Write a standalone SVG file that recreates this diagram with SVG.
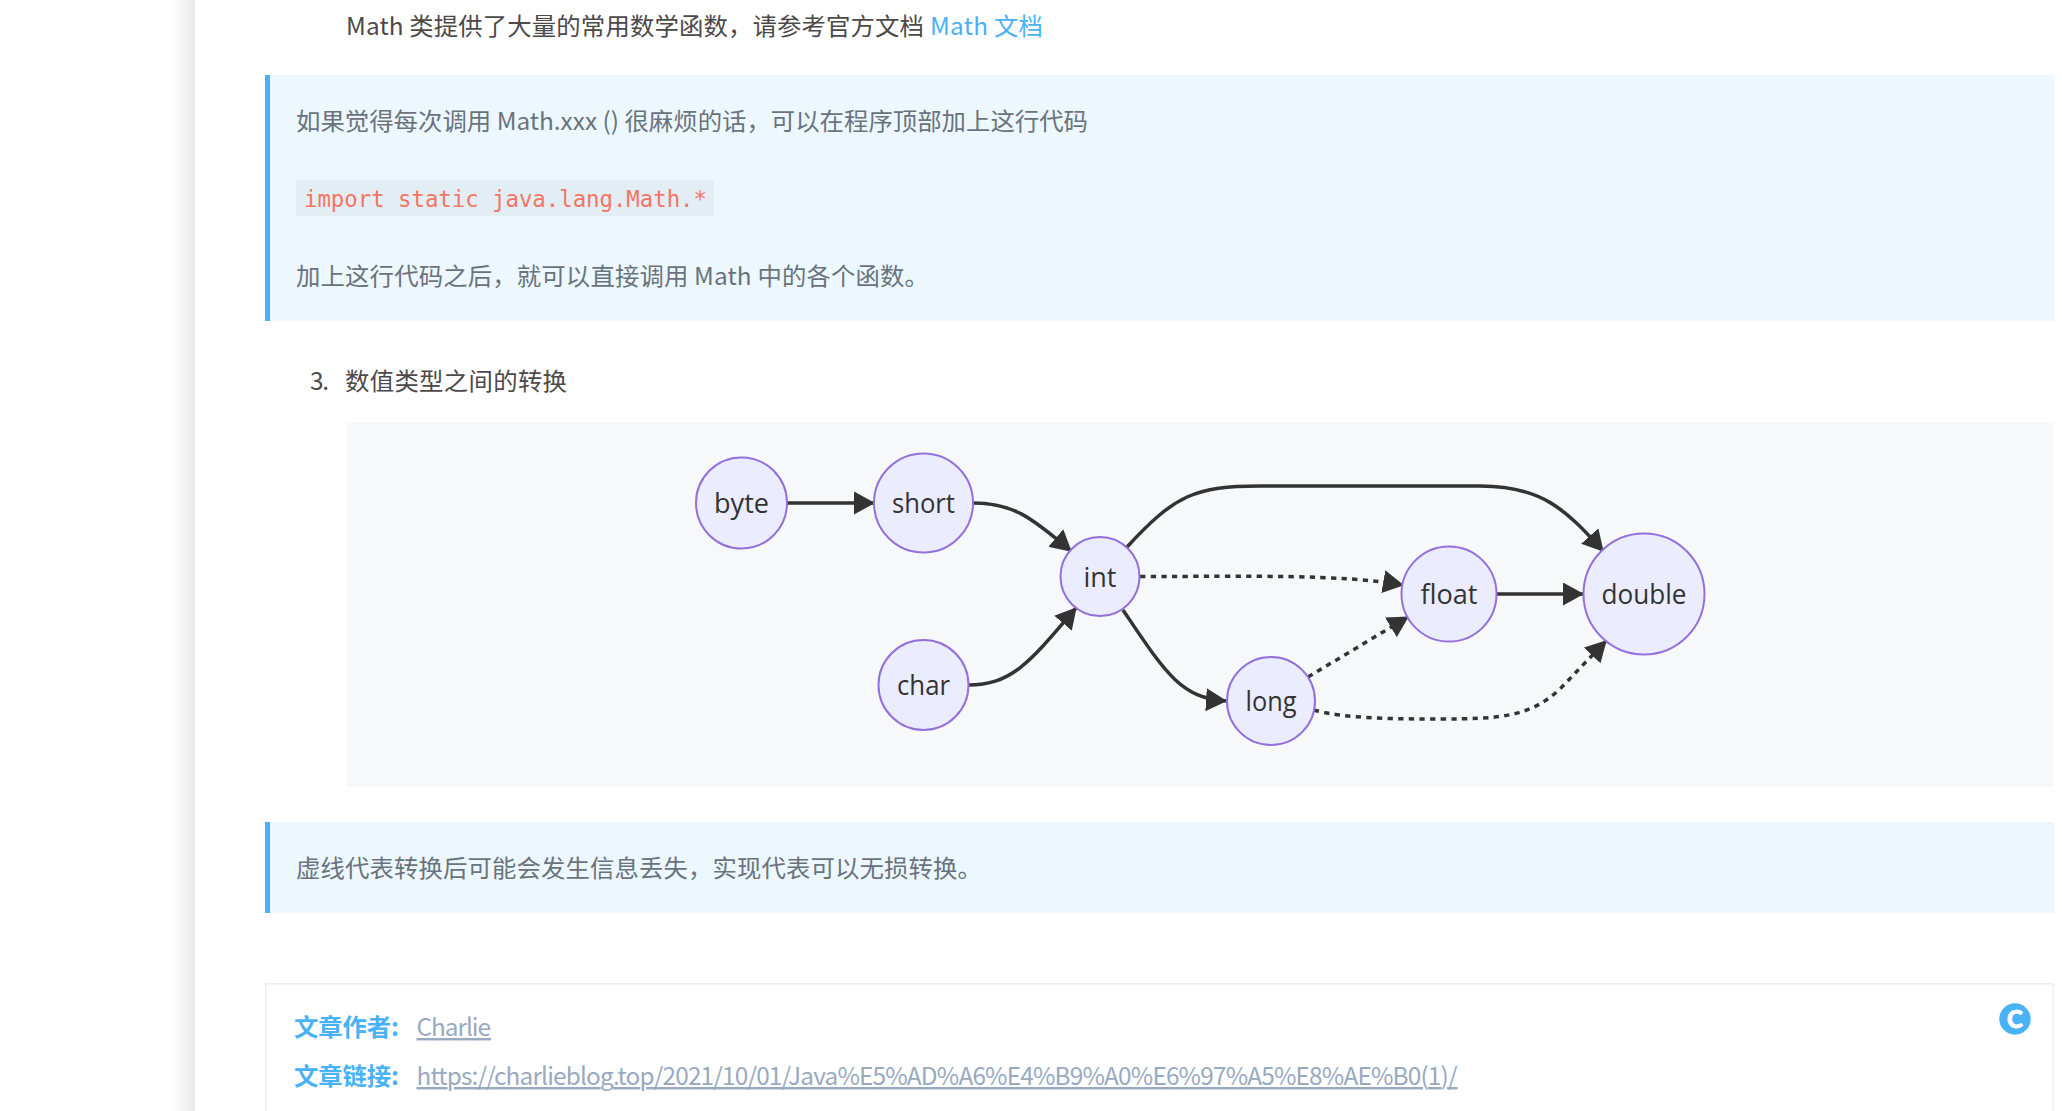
<svg xmlns="http://www.w3.org/2000/svg" width="2062" height="1111" viewBox="0 0 2062 1111">
<style>
.t{font-family:"Noto Sans CJK SC","Noto Sans",sans-serif;font-size:24.4px;fill:#4c4948}
.q{fill:#6a737d}
.a{fill:#49b1f5}
.lbl{font-weight:700;fill:#49b1f5}
.url{fill:#99a9bf;text-decoration:underline}
.code{font-family:"DejaVu Sans Mono",monospace;font-size:22.4px;fill:#f47466}
.qb{fill:#ecf7fe}
.bar{fill:#49b1f5}
.n circle{fill:#ececff;stroke:#9370db;stroke-width:2}
.n text{font-family:"Open Sans","Noto Sans",sans-serif;font-size:27.5px;fill:#333;text-anchor:middle}
.e{fill:none;stroke:#333;stroke-width:3.5;marker-end:url(#ah)}
.d{stroke-dasharray:5.3 5.3}
</style>
<defs>
<marker id="ah" markerUnits="userSpaceOnUse" viewBox="0 0 21 23" refX="20" refY="11.5" markerWidth="21" markerHeight="23" orient="auto"><path d="M0,0L21,11.5L0,23z" fill="#333"/></marker>
<linearGradient id="sh" x1="0" x2="1" y1="0" y2="0"><stop offset="0" stop-color="#fff"/><stop offset="1" stop-color="#e9e9e9"/></linearGradient>
</defs>
<rect width="2062" height="1111" fill="#fff"/>
<rect x="170" y="0" width="25" height="1111" fill="url(#sh)"/>
<text class="t" x="346" y="35" textLength="578">Math 类提供了大量的常用数学函数，请参考官方文档</text>
<text class="t a" x="930" y="35" textLength="113">Math 文档</text>
<rect class="qb" x="265" y="75" width="1789" height="246"/><rect class="bar" x="265" y="75" width="5" height="246"/>
<text class="t q" x="296" y="130" textLength="792">如果觉得每次调用 Math.xxx () 很麻烦的话，可以在程序顶部加上这行代码</text>
<rect x="296" y="180" width="418" height="36" fill="#e3eef4"/>
<text class="code" x="304" y="207" textLength="403">import static java.lang.Math.*</text>
<text class="t q" x="296" y="285" textLength="633">加上这行代码之后，就可以直接调用 Math 中的各个函数。</text>
<text class="t" x="310" y="390" textLength="19">3.</text>
<text class="t" x="345" y="390" textLength="222">数值类型之间的转换</text>
<rect x="346" y="422" width="1708" height="365" fill="#f6f8fa"/>
<g id="connectors">
<path class="e" d="M787,503L874,503"/>
<path class="e" d="M973,503C1012,503 1030,516 1071,551"/>
<path class="e" d="M968,685C1012,685 1030,662 1076,608"/>
<path class="e" d="M1123,610C1165,672 1180,698 1226,701"/>
<path class="e" d="M1127,547C1175,495 1195,486 1260,486L1480,486C1540,486 1565,508 1603,551"/>
<path class="e d" d="M1140,576.5C1250,576.5 1340,574 1403,585"/>
<path class="e d" d="M1308,677L1408,617"/>
<path class="e d" d="M1314,710C1345,719 1400,719 1440,719C1500,719 1530,717 1560,689L1606,641"/>
<path class="e" d="M1497,594L1583,594"/>
</g>
<g id="byte" class="n"><circle cx="741.5" cy="503" r="45.5"/><text x="741.5" y="513" textLength="55" lengthAdjust="spacingAndGlyphs">byte</text></g>
<g id="short" class="n"><circle cx="923.5" cy="503" r="49.5"/><text x="923.5" y="513" textLength="63" lengthAdjust="spacingAndGlyphs">short</text></g>
<g id="int" class="n"><circle cx="1100" cy="576.5" r="39.5"/><text x="1100" y="587" textLength="33" lengthAdjust="spacingAndGlyphs">int</text></g>
<g id="char" class="n"><circle cx="923.5" cy="685" r="45"/><text x="923.5" y="695" textLength="53" lengthAdjust="spacingAndGlyphs">char</text></g>
<g id="long" class="n"><circle cx="1271" cy="701" r="44"/><text x="1271" y="711" textLength="51" lengthAdjust="spacingAndGlyphs">long</text></g>
<g id="float" class="n"><circle cx="1449" cy="594" r="47.5"/><text x="1449" y="604" textLength="57" lengthAdjust="spacingAndGlyphs">float</text></g>
<g id="double" class="n"><circle cx="1644" cy="594" r="60.5"/><text x="1644" y="604" textLength="85" lengthAdjust="spacingAndGlyphs">double</text></g>
<rect class="qb" x="265" y="822" width="1789" height="91"/><rect class="bar" x="265" y="822" width="5" height="91"/>
<text class="t q" x="296" y="877" textLength="686">虚线代表转换后可能会发生信息丢失，实现代表可以无损转换。</text>
<path d="M265.75,1111V983.75H2053.25V1111" fill="none" stroke="#eee" stroke-width="1.5"/>
<text class="t lbl" x="294" y="1036" textLength="105">文章作者:</text>
<text class="t url" x="416.5" y="1036" textLength="74.5">Charlie</text>
<text class="t lbl" x="294" y="1085" textLength="105">文章链接:</text>
<text class="t url" x="416.5" y="1085" textLength="1041">https://charlieblog.top/2021/10/01/Java%E5%AD%A6%E4%B9%A0%E6%97%A5%E8%AE%B0(1)/</text>
<circle cx="2015" cy="1019" r="15.7" fill="#49b1f5"/>
<text x="2015" y="1027.5" font-family="Lato,sans-serif" font-weight="900" font-size="24" fill="#fff" stroke="#fff" stroke-width="0.8" text-anchor="middle">C</text>
</svg>
